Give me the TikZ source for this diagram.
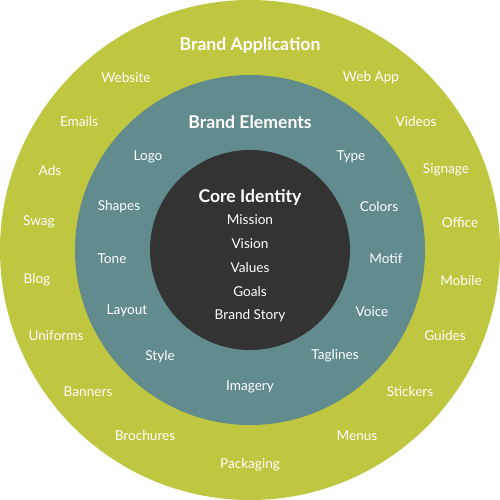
\documentclass[tikz,border=0pt]{standalone}
\usepackage{fontspec}
\setmainfont{Lato}
\definecolor{appgreen}{HTML}{BFC640}
\definecolor{elteal}{HTML}{618B8C}
\definecolor{coredark}{HTML}{333333}
\begin{document}
\begin{tikzpicture}[x=1pt,y=-1pt,
  lbl/.style={text=white,font=\fontsize{13.6}{15}\selectfont,inner sep=0pt,anchor=center,yshift=-1.2pt},
  hdr/.style={text=white,font=\fontsize{17.6}{19}\selectfont\bfseries,inner sep=0pt,anchor=center,yshift=-1.2pt},
  ring/.style={circle,draw=none,inner sep=0pt}]
\useasboundingbox (0,0) rectangle (500,500);
\node[ring,fill=appgreen,minimum size=500pt] (outer) at (250,250) {};
\node[ring,fill=elteal,minimum size=350pt] (middle) at (250,250) {};
\node[ring,fill=coredark,minimum size=200pt] (inner) at (250,250) {};
% Brand Application
\node[hdr] (ba) at (250,44) {Brand Application};
\node[lbl] (website) at (126,76) {Website};
\node[lbl] (webapp) at (371,76) {Web App};
\node[lbl] (emails) at (79,120) {Emails};
\node[lbl] (videos) at (416,120) {Videos};
\node[lbl] (ads) at (50,169) {Ads};
\node[lbl] (signage) at (446,169) {Signage};
\node[lbl] (swag) at (39,221) {Swag};
\node[lbl] (office) at (460,221) {Office};
\node[lbl] (blog) at (37,279) {Blog};
\node[lbl] (mobile) at (461,279) {Mobile};
\node[lbl] (uniforms) at (56,334) {Uniforms};
\node[lbl] (guides) at (445,334) {Guides};
\node[lbl] (banners) at (88,390) {Banners};
\node[lbl] (stickers) at (410,390) {Stickers};
\node[lbl] (brochures) at (145,434) {Brochures};
\node[lbl] (menus) at (357,434) {Menus};
\node[lbl] (packaging) at (250,464) {Packaging};
% Brand Elements
\node[hdr] (be) at (250,121) {Brand Elements};
\node[lbl] (logo) at (148,156) {Logo};
\node[lbl] (type) at (351,156) {Type};
\node[lbl] (shapes) at (119,205) {Shapes};
\node[lbl] (colors) at (379,205) {Colors};
\node[lbl] (tone) at (112,257) {Tone};
\node[lbl] (motif) at (386,257) {Motif};
\node[lbl] (layout) at (127,310) {Layout};
\node[lbl] (voice) at (372,310) {Voice};
\node[lbl] (style) at (160,355) {Style};
\node[lbl] (taglines) at (335,355) {Taglines};
\node[lbl] (imagery) at (250,386) {Imagery};
% Core Identity
\node[hdr] (ci) at (250,196) {Core Identity};
\node[lbl] (mission) at (250,218) {Mission};
\node[lbl] (vision) at (250,242) {Vision};
\node[lbl] (values) at (250,266) {Values};
\node[lbl] (goals) at (250,290) {Goals};
\node[lbl] (story) at (250,314) {Brand Story};
\end{tikzpicture}
\end{document}
